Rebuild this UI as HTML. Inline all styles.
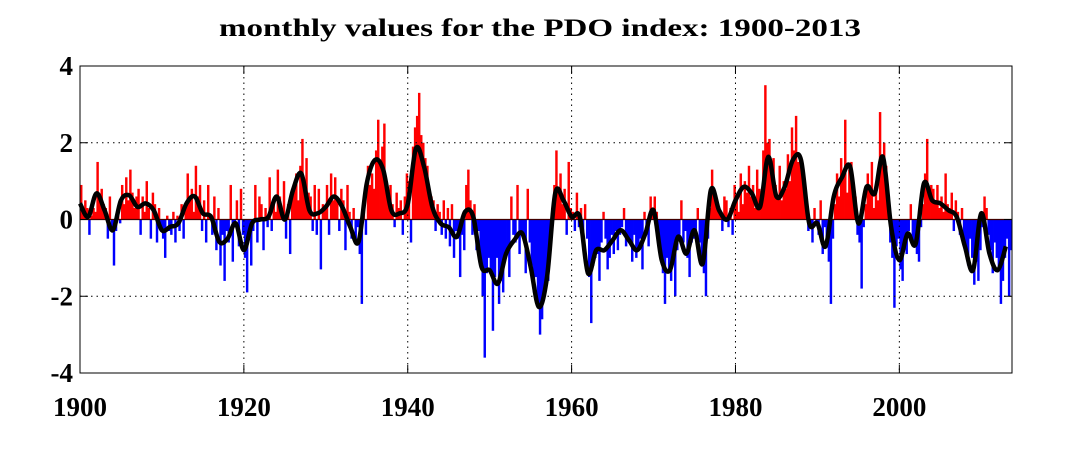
<!DOCTYPE html>
<html><head><meta charset="utf-8"><style>
html,body{margin:0;padding:0;background:#fff;}
svg{display:block;font-family:"Liberation Serif",serif;font-weight:bold;}
</style></head><body>
<svg id="chart" width="1068" height="464" viewBox="0 0 1068 464">
<text x="540" y="36" text-anchor="middle" font-size="25" textLength="642" lengthAdjust="spacingAndGlyphs">monthly values for the PDO index: 1900-2013</text>
<g id="bars"></g>
<g id="grid"></g>
<path id="smooth" fill="none" stroke="#000" stroke-width="4.5" stroke-linejoin="round"></path>
<g id="axes"></g>
</svg>
<script>
const startYear = 1900;
const quarterly = [
.9,.2,.5,.3, -.4,.1,.3,.2, 1.5,.6,.8,.4, .3,-.5,.6,-.2, -1.2,-.3,.2,-.1, .9,.4,1.1,.5, 1.3,.7,.3,.6, .8,-.4,.6,.2, 1.0,.3,-.5,.7, .4,-.6,.3,-.2,
-.5,-1.0,.1,-.3, -.4,.2,-.6,.1, -.3,.4,-.5,.3, 1.2,.5,.8,.2, 1.4,.6,.9,-.3, .5,-.6,.9,.1, -.4,.6,-.8,.3, -1.2,-.4,-1.6,-.3, -.6,.9,-1.1,-.2, .5,-.7,.8,-.4,
-1.0,-1.9,-.5,-1.2, -.3,.9,-.6,.6, .4,-.8,.3,-.2, 1.1,-.3,.5,.2, 1.3,.6,.2,1.0, -.5,.4,-.9,.6, .9,1.2,.5,1.4, 2.1,1.0,1.6,.7, .6,-.3,.9,-.4, .8,-1.3,.4,.3,
.9,-.4,1.2,.5, 1.1,.6,-.3,.8, .5,-.8,.9,.2, -.5,.3,-.6,-.2, -.9,-2.2,.3,-.4, 1.4,.9,1.2,.8, 1.8,2.6,1.4,1.9, 2.5,1.0,.6,.9, .4,-.2,.7,.3, .5,-.4,.6,1.2,
1.0,-.6,1.9,2.4, 2.7,3.3,2.2,2.0, 1.6,1.4,.8,.6, .5,-.3,.4,.2, -.4,.5,-.5,.3, -.7,.4,-1.0,-.3, -.5,-1.5,-.4,-.8, .9,1.3,.5,-.4, .4,-.8,-.3,-1.2, -2.0,-3.6,-1.4,-1.0,
-1.3,-2.9,-1.5,-1.0, -2.2,-1.6,-1.9,-.9, -.8,-1.5,.6,-.4, -.6,.9,-.9,-.3, -.5,-1.4,.8,-.6, -1.2,-1.9,-1.5,-2.3, -3.0,-2.6,-2.0,-1.7, -1.6,-.8,.3,.9, 1.8,.7,1.2,.4, .8,-.4,1.5,.3,
.2,-.3,.7,-.2, .3,-.6,.4,-.5, -1.5,-2.7,-1.2,-1.0, -.9,-1.6,-.6,.2, -.5,-1.3,-1.0,-.4, -.9,-.3,-.8,-.4, -.2,.3,-.7,-.5, -.6,-1.1,-.4,-1.0, -.8,-.5,-1.3,.2, -.3,-.7,.6,.3,
.6,.2,-.4,-.8, -1.4,-2.2,-1.0,-1.3, -1.6,-1.1,-2.0,-.8, -.4,.5,-.6,-.3, -1.0,-1.5,-.6,-.5, -.4,.3,-.6,-1.1, -1.4,-2.0,-.5,.3, 1.3,.8,.6,.4, .2,-.3,.6,.5, -.2,.3,-.4,.9,
.6,.2,1.2,.4, 1.0,.7,1.4,.6, .9,.3,1.3,.8, .4,1.8,3.5,2.0, 2.1,1.2,1.6,.9, .6,1.4,.5,1.0, .8,1.7,1.0,2.4, 1.8,2.7,1.5,1.6, 1.4,1.0,.3,-.3, -.2,-.6,.3,-.1,
-.4,.5,-.9,-.2, -.6,-1.1,-2.2,-.5, .4,1.2,.6,1.6, 1.1,2.6,.7,1.3, 1.5,.8,.6,-.4, -.6,-1.8,-.2,.4, 1.2,.8,1.5,.3, .7,.5,2.8,1.6, 2.0,1.4,.4,-.6, -1.0,-2.3,-.7,-.5,
-1.3,-1.6,-.5,-.9, -.3,.4,-.7,-.6, -.9,-1.1,-.2,.4, 1.2,2.1,.8,.9, .8,.5,.9,.3, .6,.2,1.2,.4, .3,.7,-.3,.5, .2,-.4,.3,-.6, -.7,-1.2,-.5,-1.0, -1.7,-1.1,-1.6,-.8,
-.2,.6,.3,-.4, -.8,-1.4,-.6,-1.0, -1.3,-2.2,-1.6,-1.0, -.5,-2.0,-.8
];
const smoothYearly = [
.42,.07,.68,.24,-.28,.5,.63,.33,.42,.24,
-.28,-.19,-.1,.42,.6,.16,.07,-.58,-.5,-.1,
-.8,-.1,0,.07,.6,0,.77,1.2,.24,.16,
.33,.6,.33,-.2,-.58,.94,1.55,1.3,.24,.16,
.4,1.85,1.37,.33,-.1,-.2,-.45,.2,.07,-1.23,
-1.32,-1.67,-.89,-.54,-.37,-1.23,-2.28,-1.5,.68,.5,
.07,.07,-1.4,-.8,-.8,-.54,-.28,-.54,-.8,-.37,
.24,-1.06,-1.32,-.45,-.89,-.28,-1.15,.77,.24,0,
.5,.85,.68,.33,1.63,.6,.85,1.55,1.55,-.1,
-.1,-.7,.6,1.1,1.37,-.1,.85,.68,1.63,-.2,
-1.06,-.37,-.63,.94,.5,.42,.24,.07,-.7,-1.32,
.16,-.89,-1.32,-.7
];
const xTicks = [1900,1920,1940,1960,1980,2000];
const yTicks = [-4,-2,0,2,4];

const L=80,R=1012,T=66,B=373;
const xMin=1900,xMax=2013.75,yMin=-4,yMax=4;
const xS=v=>L+(v-xMin)/(xMax-xMin)*(R-L);
const yS=v=>B-(v-yMin)/(yMax-yMin)*(B-T);
const NS="http://www.w3.org/2000/svg";
function mk(tag,attrs,parent){const e=document.createElementNS(NS,tag);for(const k in attrs)e.setAttribute(k,attrs[k]);parent.appendChild(e);return e;}

const bars=document.getElementById('bars');
quarterly.forEach((v,i)=>{
  const t=startYear+i/4;
  const x0=xS(t), x1=xS(t+0.25);
  const y0=yS(0), y1=yS(v);
  const r=mk('rect',{x:x0,y:Math.min(y0,y1),width:Math.min(x1,R)-x0+0.4,height:Math.abs(y1-y0),fill:v>=0?'#ff0000':'#0000ff'},bars);
  
  
});

const pts=smoothYearly.map((v,i)=>[xS(startYear+i),yS(v)]);
let d='M'+pts[0][0]+','+pts[0][1];
for(let i=0;i<pts.length-1;i++){
  const p0=pts[Math.max(0,i-1)],p1=pts[i],p2=pts[i+1],p3=pts[Math.min(pts.length-1,i+2)];
  const c1=[p1[0]+(p2[0]-p0[0])/6,p1[1]+(p2[1]-p0[1])/6];
  const c2=[p2[0]-(p3[0]-p1[0])/6,p2[1]-(p3[1]-p1[1])/6];
  d+=' C'+c1[0]+','+c1[1]+' '+c2[0]+','+c2[1]+' '+p2[0]+','+p2[1];
}
document.getElementById('smooth').setAttribute('d',d);

const grid=document.getElementById('grid');
xTicks.forEach(t=>{ if(t>xMin){const l=mk('line',{x1:xS(t),x2:xS(t),y1:T,y2:B,stroke:'#000','stroke-width':1,'stroke-dasharray':'1.5,4'},grid);
  
  }});
yTicks.forEach(t=>{ if(t>yMin&&t<yMax&&t!==0){const l=mk('line',{x1:L,x2:R,y1:yS(t),y2:yS(t),stroke:'#000','stroke-width':1,'stroke-dasharray':'1.5,4'},grid);
  
  }});
const zl=mk('line',{x1:L,x2:R,y1:yS(0),y2:yS(0),stroke:'#400000','stroke-width':1.2},grid);



const axes=document.getElementById('axes');
const box=mk('rect',{x:L,y:T,width:R-L,height:B-T,fill:'none',stroke:'#000','stroke-width':1},axes);


xTicks.forEach(t=>{
  mk('line',{x1:xS(t),x2:xS(t),y1:B,y2:B-8,stroke:'#000'},axes);
  mk('line',{x1:xS(t),x2:xS(t),y1:T,y2:T+8,stroke:'#000'},axes);
  const tx=mk('text',{x:xS(t),y:416,'text-anchor':'middle','font-size':27},axes);
  tx.textContent=t;
  
  
});
yTicks.forEach(t=>{
  mk('line',{x1:L,x2:L+8,y1:yS(t),y2:yS(t),stroke:'#000'},axes);
  mk('line',{x1:R,x2:R-8,y1:yS(t),y2:yS(t),stroke:'#000'},axes);
  const tx=mk('text',{x:73,y:yS(t)+9,'text-anchor':'end','font-size':27},axes);
  tx.textContent=t;
  
  
});
</script>
</body></html>
